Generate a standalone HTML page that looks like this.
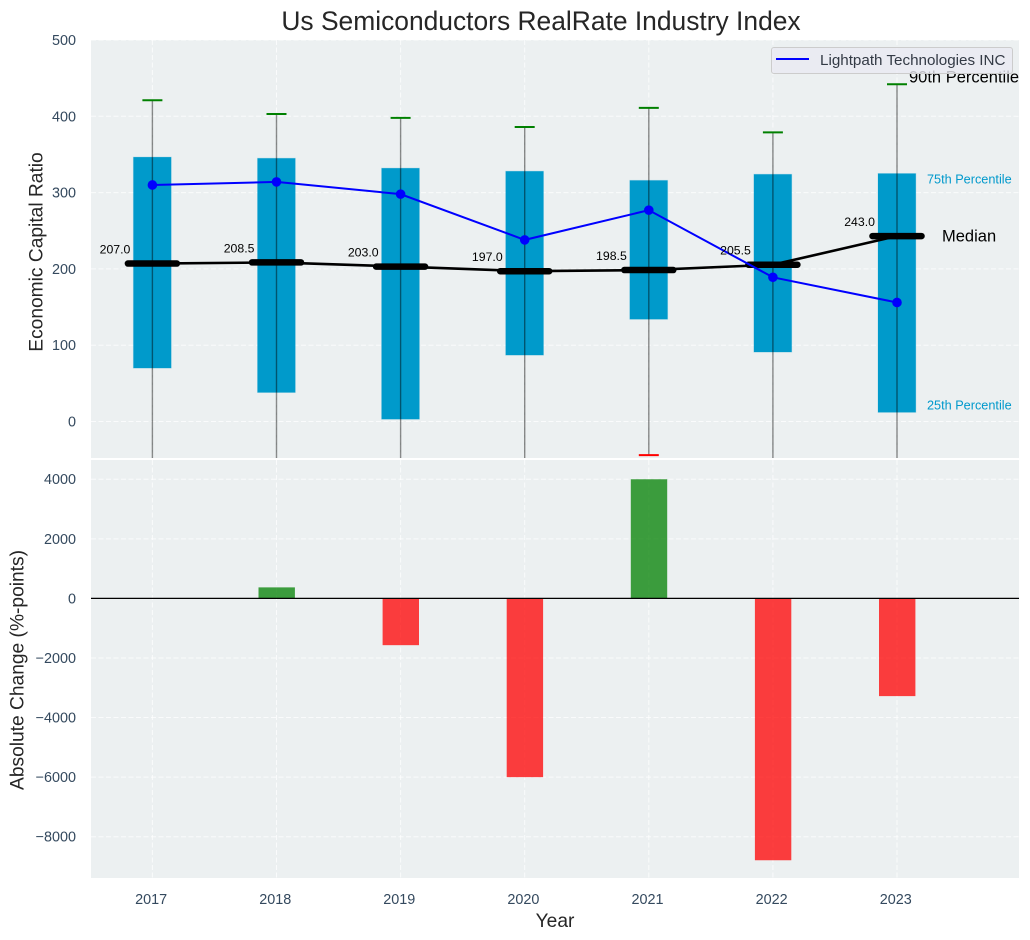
<!DOCTYPE html>
<html>
<head>
<meta charset="utf-8">
<style>
html,body{margin:0;padding:0;background:#fff;width:1030px;height:940px;overflow:hidden}
svg{display:block;font-family:"Liberation Sans",Arial,sans-serif}
</style>
</head>
<body>
<svg id="chart" xmlns="http://www.w3.org/2000/svg" width="1030" height="940" viewBox="0 0 1030 940">
<defs><clipPath id="top-clip"><rect x="91" y="40" width="928" height="418"/></clipPath></defs>
<rect x="91" y="40" width="928" height="418" fill="#ecf0f1"/>
<rect x="91" y="460" width="928" height="418" fill="#ecf0f1"/>
<g id="grid"></g>
<g id="top-marks" clip-path="url(#top-clip)"></g>
<g id="bottom-marks"></g>
<g id="labels"></g>
</svg>
<script>
const years = [2017, 2018, 2019, 2020, 2021, 2022, 2023];
const p90 = [421, 403, 398, 386, 411, 379, 442];
const q75 = [346.5, 345, 332, 328, 316, 324, 325];
const medians = [207.0, 208.5, 203.0, 197.0, 198.5, 205.5, 243.0];
const q25 = [70, 38, 3, 87, 134, 91, 12];
const p10 = [-120, -150, -110, -130, -44, -100, -140];
const company = [310, 314, 298, 238, 277, 189, 156];
const changes = [0, 370, -1570, -6000, 4000, -8790, -3280];
const topTicks = [500, 400, 300, 200, 100, 0];
const bottomTicks = [4000, 2000, 0, -2000, -4000, -6000, -8000];

const NS = 'http://www.w3.org/2000/svg';
const x = v => 152.4 + (v - 2017) * 124.1;
const yTop = v => 421.5 - v * 0.763;
const yBottom = v => 598.4 - v * 0.02979;
const make = (parent, tag, attrs, text) => {
  const n = document.createElementNS(NS, tag);
  for (const k in attrs) n.setAttribute(k, attrs[k]);
  if (text !== undefined) n.textContent = text;
  parent.appendChild(n);
  return n;
};
const grid = document.getElementById('grid');
const topG = document.getElementById('top-marks');
const botG = document.getElementById('bottom-marks');
const lab = document.getElementById('labels');
const tickColor = '#34495e';
const dark = '#262626';
let el;

/* grid */
years.forEach(yr => {
  el = make(grid, 'line', {x1: x(yr), x2: x(yr), y1: 40, y2: 458, stroke: '#fff', 'stroke-opacity': 0.75, 'stroke-width': 1, 'stroke-dasharray': '5 2.5'});
  
  
  el = make(grid, 'line', {x1: x(yr), x2: x(yr), y1: 460, y2: 878, stroke: '#fff', 'stroke-opacity': 0.75, 'stroke-width': 1, 'stroke-dasharray': '5 2.5'});
  
  
  el = make(lab, 'text', {x: x(yr) - 1.3, y: 904, 'text-anchor': 'middle', 'font-size': 14.4, fill: tickColor}, String(yr));
  
  
});
topTicks.forEach(t => {
  el = make(grid, 'line', {x1: 91, x2: 1019, y1: yTop(t), y2: yTop(t), stroke: '#fff', 'stroke-opacity': 0.75, 'stroke-width': 1, 'stroke-dasharray': '5 2.5'});
  
  
  el = make(lab, 'text', {x: 76, y: yTop(t) + 5, 'text-anchor': 'end', 'font-size': 14.4, fill: tickColor}, String(t));
  
  
});
bottomTicks.forEach(t => {
  el = make(grid, 'line', {x1: 91, x2: 1019, y1: yBottom(t), y2: yBottom(t), stroke: '#fff', 'stroke-opacity': 0.75, 'stroke-width': 1, 'stroke-dasharray': '5 2.5'});
  
  
  el = make(lab, 'text', {x: 76, y: yBottom(t) + 5, 'text-anchor': 'end', 'font-size': 14.4, fill: tickColor}, String(t).replace('-', '\u2212'));
  
  
});

/* top panel boxes and whiskers */
years.forEach((yr, i) => {
  el = make(topG, 'rect', {x: x(yr) - 19, y: yTop(q75[i]), width: 37.8, height: yTop(q25[i]) - yTop(q75[i]), fill: '#009acb', stroke: '#0099cc', 'stroke-opacity': 0.2, 'stroke-width': 1});
  
  
  el = make(topG, 'line', {x1: x(yr), x2: x(yr), y1: yTop(p90[i]), y2: yTop(p10[i]), stroke: '#000', 'stroke-opacity': 0.45, 'stroke-width': 1.4});
  
  
  el = make(topG, 'line', {x1: x(yr) - 10, x2: x(yr) + 10, y1: yTop(p90[i]), y2: yTop(p90[i]), stroke: '#008000', 'stroke-width': 2});
  
  
  el = make(topG, 'line', {x1: x(yr) - 10, x2: x(yr) + 10, y1: yTop(p10[i]), y2: yTop(p10[i]), stroke: '#ff0000', 'stroke-width': 2});
  
  
});

/* median line */
el = make(topG, 'polyline', {points: years.map((yr, i) => x(yr) + ',' + yTop(medians[i])).join(' '), fill: 'none', stroke: '#000', 'stroke-width': 2.6});


years.forEach((yr, i) => {
  el = make(topG, 'line', {x1: x(yr) - 24.5, x2: x(yr) + 24.5, y1: yTop(medians[i]), y2: yTop(medians[i]), stroke: '#000', 'stroke-width': 6.5, 'stroke-linecap': 'round'});
  
  
  el = make(lab, 'text', {x: x(yr) - 22, y: yTop(medians[i]) - 10, 'text-anchor': 'end', 'font-size': 12.3, fill: '#000'}, medians[i].toFixed(1));
  
  
});

/* company series */
el = make(topG, 'polyline', {points: years.map((yr, i) => x(yr) + ',' + yTop(company[i])).join(' '), fill: 'none', stroke: '#0000ff', 'stroke-width': 2});


years.forEach((yr, i) => {
  el = make(topG, 'circle', {cx: x(yr), cy: yTop(company[i]), r: 4.8, fill: '#0000ff'});
  
  
});

/* bottom bars */
years.forEach((yr, i) => {
  const v = changes[i];
  if (v === 0) return;
  const top = Math.min(yBottom(v), yBottom(0));
  const h = Math.abs(yBottom(v) - yBottom(0));
  el = make(botG, 'rect', {x: x(yr) - 18, y: top, width: 36.4, height: h, fill: v > 0 ? '#008000' : '#ff0000', 'fill-opacity': 0.75});
  
  
});
el = make(botG, 'line', {x1: 91, x2: 1019, y1: yBottom(0), y2: yBottom(0), stroke: '#000', 'stroke-width': 1.2});



/* reference annotations */
const last = years.length - 1;
el = make(lab, 'text', {x: 909, y: 82.5, 'font-size': 16.5, fill: '#000'}, '90th Percentile');


el = make(lab, 'text', {x: x(years[last]) + 30, y: yTop(q75[last]) + 10, 'font-size': 12.7, fill: '#0099cc'}, '75th Percentile');


el = make(lab, 'text', {x: x(years[last]) + 45, y: yTop(medians[last]) + 5.5, 'font-size': 16.5, fill: '#000'}, 'Median');


el = make(lab, 'text', {x: x(years[last]) + 30, y: yTop(q25[last]) - 3, 'font-size': 12.7, fill: '#0099cc'}, '25th Percentile');



/* legend */
el = make(lab, 'rect', {x: 771.5, y: 47.5, width: 241, height: 26, rx: 2.5, fill: '#eaeaf2', 'fill-opacity': 0.8, stroke: '#cccccc', 'stroke-width': 1});


el = make(lab, 'line', {x1: 776, x2: 809, y1: 59, y2: 59, stroke: '#0000ff', 'stroke-width': 2});


el = make(lab, 'text', {x: 820, y: 65, 'font-size': 15.2, fill: '#333a45'}, 'Lightpath Technologies INC');



/* titles */
el = make(lab, 'text', {x: 541, y: 30, 'text-anchor': 'middle', 'font-size': 26.4, fill: dark}, 'Us Semiconductors RealRate Industry Index');


el = make(lab, 'text', {x: 555, y: 927, 'text-anchor': 'middle', 'font-size': 19.2, fill: dark}, 'Year');


el = make(lab, 'text', {transform: 'translate(42.5,252) rotate(-90)', 'text-anchor': 'middle', 'font-size': 19.2, fill: dark}, 'Economic Capital Ratio');


el = make(lab, 'text', {transform: 'translate(23.5,670) rotate(-90)', 'text-anchor': 'middle', 'font-size': 19.2, fill: dark}, 'Absolute Change (%-points)');


</script>
</body>
</html>
